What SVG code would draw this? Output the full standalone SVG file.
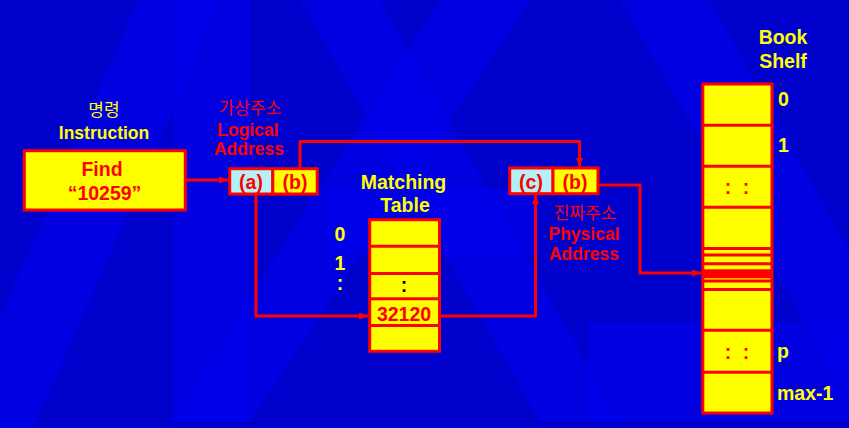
<svg xmlns="http://www.w3.org/2000/svg" width="849" height="428" viewBox="0 0 849 428">
<style>
.t{font-family:"Liberation Sans",Arial,sans-serif;font-weight:bold;text-anchor:middle}
.k{font-family:"Noto Sans CJK KR",sans-serif;font-weight:400;font-size:17px;text-anchor:middle}
.st{text-anchor:start}
.y{fill:#FFFF00}
.r{fill:#FF0000}
.s17{font-size:17.5px}
.s19{font-size:19.5px}
.box{fill:#FFFF00;stroke:#FF0000;stroke-width:3}
.cy{fill:#B4F0F8;stroke:#FF0000;stroke-width:3}
.ln{fill:none;stroke:#FF0000;stroke-width:3}
.conn{fill:none;stroke:#FF0000;stroke-width:3;marker-end:url(#ah)}
.bg{fill:#0000F0;opacity:0.55}
</style>
<defs>
<marker id="ah" markerUnits="userSpaceOnUse" markerWidth="10" markerHeight="8" refX="9" refY="3.5" orient="auto">
<path d="M0,0 L9,3.5 L0,7 z" fill="#FF0000"/>
</marker>
</defs>
<g id="background">
<rect x="0" y="0" width="849" height="428" fill="#0000CC"/>
<polygon class="bg" points="138,0 221,0 34,428 0,428 0,317"/>
<rect class="bg" x="173" y="0" width="77" height="422"/>
<polygon class="bg" points="300,0 380,0 620,422 540,422"/>
<polygon class="bg" points="440,0 530,0 250,422 170,422"/>
<polygon class="bg" points="620,0 710,0 849,250 849,400"/>
<rect class="bg" x="325" y="188" width="215" height="67"/>
<rect class="bg" x="587" y="322" width="262" height="100"/>
</g>
<g id="connectors">
<path class="conn" d="M186,180 H228"/>
<path class="conn" d="M300,168 V141.5 H579.5 V167"/>
<path class="conn" d="M598,185 H640 V273 H701"/>
<path class="conn" d="M256,194 V316 H368"/>
<path class="conn" d="M440,316 H535.5 V195"/>
</g>
<g id="instruction">
<text class="k y" x="104" y="116">명령</text>
<text class="t y s17" x="104" y="139">Instruction</text>
<rect class="box" x="24.3" y="150.7" width="161" height="59.3" stroke-width="3.3"/>
<text class="t r s19" x="102" y="176">Find</text>
<text class="t r s19" x="104.5" y="200">“10259”</text>
</g>
<g id="logical-address">
<text class="k r" x="250" y="114">가상주소</text>
<text class="t r s17" x="248" y="136">Logical</text>
<text class="t r s17" x="249" y="155">Address</text>
<rect class="cy" x="229.7" y="168.7" width="43.1" height="25.3"/>
<rect class="box" x="272.8" y="168.7" width="44.4" height="25.3"/>
<text class="t r s19" x="251" y="189">(a)</text>
<text class="t r s19" x="295" y="189">(b)</text>
</g>
<g id="matching-table">
<text class="t y s19" x="403.5" y="189">Matching</text>
<text class="t y s19" x="405" y="212">Table</text>
<text class="t y s19" x="340" y="241">0</text>
<text class="t y s19" x="340" y="270">1</text>
<text class="t y s19" x="340" y="290">:</text>
<rect class="box" x="369.7" y="219.7" width="69.8" height="131.6"/>
<path class="ln" d="M369.7,246.2 H439.5 M369.7,273.5 H439.5 M369.7,298.8 H439.5 M369.7,325.5 H439.5"/>
<text class="t s19" x="404" y="292" fill="#000000">:</text>
<text class="t r s19" x="404" y="321">32120</text>
</g>
<g id="physical-address">
<rect class="cy" x="509.7" y="168" width="43.3" height="25.7"/>
<rect class="box" x="553" y="168" width="45" height="25.7"/>
<text class="t r s19" x="531" y="189">(c)</text>
<text class="t r s19" x="575" y="189">(b)</text>
<text class="k r" x="585" y="219">진짜주소</text>
<text class="t r s17" x="584" y="240">Physical</text>
<text class="t r s17" x="584" y="260">Address</text>
</g>
<g id="book-shelf">
<text class="t y s19" x="783" y="44">Book</text>
<text class="t y s19" x="783" y="68">Shelf</text>
<rect class="box" x="702.8" y="84" width="69.2" height="329"/>
<path class="ln" d="M702.8,125.3 H772 M702.8,166.2 H772 M702.8,207.2 H772 M702.8,248.5 H772 M702.8,289.5 H772 M702.8,330.3 H772 M702.8,372.2 H772"/>
<path class="ln" stroke-width="2" d="M702.8,255 H772 M702.8,263.7 H772 M702.8,281 H772"/>
<rect x="702.8" y="269.3" width="69.2" height="9" fill="#FF0000"/>
<text class="t r s19" x="728" y="194">:</text>
<text class="t r s19" x="746" y="194">:</text>
<text class="t r s19" x="728" y="359">:</text>
<text class="t r s19" x="746" y="359">:</text>
<text class="t y s19 st" x="778" y="106">0</text>
<text class="t y s19 st" x="778" y="152">1</text>
<text class="t y s19 st" x="777" y="358">p</text>
<text class="t y s19 st" x="777" y="400">max-1</text>
</g>
</svg>
